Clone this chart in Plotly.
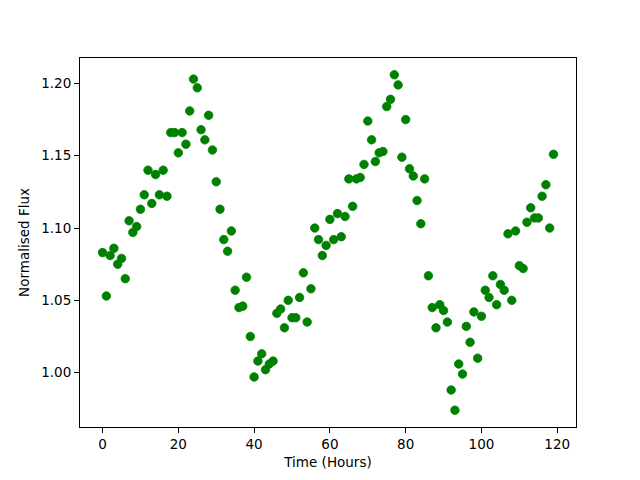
import plotly.graph_objects as go

time_hours = list(range(120))
flux = [
    1.083, 1.053, 1.081, 1.086, 1.075, 1.079, 1.065, 1.105, 1.097, 1.101,
    1.113, 1.123, 1.140, 1.117, 1.137, 1.123, 1.140, 1.122, 1.166, 1.166,
    1.152, 1.166, 1.158, 1.181, 1.203, 1.197, 1.168, 1.161, 1.178, 1.154,
    1.132, 1.113, 1.092, 1.084, 1.098, 1.057, 1.045, 1.046, 1.066, 1.025,
    0.997, 1.008, 1.013, 1.002, 1.006, 1.008, 1.041, 1.044, 1.031, 1.050,
    1.038, 1.038, 1.052, 1.069, 1.035, 1.058, 1.100, 1.092, 1.081, 1.088,
    1.106, 1.092, 1.110, 1.094, 1.108, 1.134, 1.115, 1.134, 1.135, 1.144,
    1.174, 1.161, 1.146, 1.152, 1.153, 1.184, 1.189, 1.206, 1.199, 1.149,
    1.175, 1.141, 1.136, 1.119, 1.103, 1.134, 1.067, 1.045, 1.031, 1.047,
    1.043, 1.035, 0.988, 0.974, 1.006, 0.999, 1.032, 1.021, 1.042, 1.010,
    1.039, 1.057, 1.052, 1.067, 1.047, 1.061, 1.057, 1.096, 1.050, 1.098,
    1.074, 1.072, 1.104, 1.114, 1.107, 1.107, 1.122, 1.130, 1.100, 1.151,
]
x_ticks = [0, 20, 40, 60, 80, 100, 120]
y_ticks = [1.00, 1.05, 1.10, 1.15, 1.20]

fig = go.Figure(go.Scatter(
    x=time_hours, y=flux, mode="markers",
    marker=dict(color="green", size=8.5, line=dict(color="green", width=0.8)),
))

font = dict(family="DejaVu Sans", size=13.5, color="black")
fig.update_layout(
    width=632, height=472,
    margin=dict(l=72, r=64, t=50, b=53),
    paper_bgcolor="white", plot_bgcolor="white",
    showlegend=False, font=font,
)
fig.update_xaxes(
    range=[-5.95, 124.95], tickvals=x_ticks,
    ticks="outside", ticklen=5, tickwidth=1, tickcolor="black",
    showline=True, linecolor="black", linewidth=1, mirror=True,
    showgrid=False, zeroline=False,
    title=dict(text="Time (Hours)", font=font, standoff=6),
)
fig.update_yaxes(
    range=[0.9624, 1.2176], tickvals=y_ticks, tickformat=".2f",
    ticks="outside", ticklen=5, tickwidth=1, tickcolor="black",
    showline=True, linecolor="black", linewidth=1, mirror=True,
    showgrid=False, zeroline=False,
    title=dict(text="Normalised Flux", font=font, standoff=8),
)
fig.write_html("out.html")
